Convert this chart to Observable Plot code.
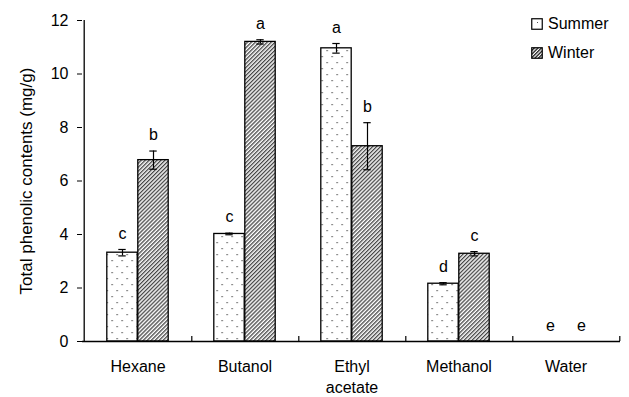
<!DOCTYPE html>
<html>
<head>
<meta charset="utf-8">
<script src="https://cdn.jsdelivr.net/npm/d3@7"></script>
<script src="https://cdn.jsdelivr.net/npm/@observablehq/plot@0.6"></script>
<style>
  body { margin: 0; background: #fff; }
  #wrap { position: relative; width: 629px; height: 397px; font-family: "Liberation Sans", Arial, sans-serif; color: #000; }
  #legend { position: absolute; left: 531px; top: 16px; font-size: 16px; line-height: 16px; }
  #legend .row { display: flex; align-items: center; height: 16px; margin-bottom: 13px; }
  #legend svg { margin-right: 5px; }
</style>
</head>
<body>
<div id="wrap">
  <div id="chart"></div>
  <div id="legend"></div>
</div>
<script>
// ---- data ----
const categories = ["Hexane", "Butanol", "Ethyl acetate", "Methanol", "Water"];
const categoryLabels = ["Hexane", "Butanol", "Ethyl\nacetate", "Methanol", "Water"];
const seasons = ["Summer", "Winter"];
const summer = [3.32, 4.02, 10.96, 2.16, 0];
const summerErr = [0.12, 0.03, 0.18, 0.04, 0];
const winter = [6.78, 11.2, 7.3, 3.28, 0];
const winterErr = [0.34, 0.08, 0.88, 0.08, 0];
const summerLetters = ["c", "c", "a", "d", "e"];
const winterLetters = ["b", "a", "b", "c", "e"];
const yTicks = [0, 2, 4, 6, 8, 10, 12];
const yTitle = "Total phenolic contents (mg/g)";

// ---- layout ----
const W = 629, H = 397, mL = 82, mR = 9, mT = 20, mB = 56;
const step = (W - mL - mR) / categories.length;
const barW = 31;
const inset = (step - barW) / 2;
const off = barW / 2;
const capHalf = 4;
const plotH = H - mT - mB;
const yMax = 12;
const tickLen = yMax * 5 / plotH; // 5px inner tick, expressed in y units

const sRows = categories.map((c, i) => ({cat: c, v: summer[i], e: summerErr[i], l: summerLetters[i]}));
const wRows = categories.map((c, i) => ({cat: c, v: winter[i], e: winterErr[i], l: winterLetters[i]}));

function defs() {
  const g = d3.create("svg:defs");
  const p1 = g.append("pattern").attr("id", "dots").attr("patternUnits", "userSpaceOnUse")
    .attr("width", 10).attr("height", 12);
  p1.append("rect").attr("width", 10).attr("height", 12).attr("fill", "#fff");
  p1.append("rect").attr("x", 2).attr("y", 2).attr("width", 1.2).attr("height", 1.2).attr("fill", "#444");
  p1.append("rect").attr("x", 7).attr("y", 8).attr("width", 1.2).attr("height", 1.2).attr("fill", "#444");
  const p2 = g.append("pattern").attr("id", "hatch").attr("patternUnits", "userSpaceOnUse")
    .attr("width", 2.8).attr("height", 2.8).attr("patternTransform", "rotate(45)");
  p2.append("rect").attr("width", 2.8).attr("height", 2.8).attr("fill", "#fff");
  p2.append("line").attr("x1", 0.7).attr("y1", 0).attr("x2", 0.7).attr("y2", 2.8)
    .attr("stroke", "#222").attr("stroke-width", 1.1);
  return g.node();
}

function series(rows, fill, sign) {
  const nz = rows.filter(d => d.v > 0);
  const er = rows.filter(d => d.e > 0);
  return [
    Plot.barY(nz, {x: "cat", y: "v", fill, stroke: "#000", strokeWidth: 1.3,
      insetLeft: inset, insetRight: inset, dx: sign * off}),
    Plot.ruleX(er, {x: "cat", y1: d => d.v - d.e, y2: d => d.v + d.e, dx: sign * off, stroke: "#000", strokeWidth: 1.2}),
    Plot.tickY(er, {x: "cat", y: d => d.v + d.e, dx: sign * off, insetLeft: step / 2 - capHalf, insetRight: step / 2 - capHalf, stroke: "#000", strokeWidth: 1.2}),
    Plot.tickY(er, {x: "cat", y: d => d.v - d.e, dx: sign * off, insetLeft: step / 2 - capHalf, insetRight: step / 2 - capHalf, stroke: "#000", strokeWidth: 1.2}),
    Plot.text(rows, {x: "cat", y: d => d.v + d.e, text: "l", dx: sign * off, dy: -16, fontSize: 16, fill: "#000"})
  ];
}

const chart = Plot.plot({
  width: W, height: H,
  marginLeft: mL, marginRight: mR, marginTop: mT, marginBottom: mB,
  style: {fontFamily: '"Liberation Sans", Arial, sans-serif', fontSize: "16px", color: "#000", background: "#fff"},
  x: {domain: categories, padding: 0},
  y: {domain: [0, yMax]},
  marks: [
    defs,
    ...series(sRows, "url(#dots)", -1),
    ...series(wRows, "url(#hatch)", 1),
    Plot.ruleY([0], {stroke: "#000", strokeWidth: 1.3}),
    Plot.ruleX([categories[0]], {y1: 0, y2: yMax, dx: -step / 2, stroke: "#000", strokeWidth: 1.3}),
    Plot.ruleX(categories, {y1: 0, y2: tickLen, dx: step / 2, stroke: "#000", strokeWidth: 1.2}),
    Plot.axisY({ticks: yTicks, tickSize: 5, tickPadding: 9, fontSize: 16, label: yTitle,
      labelAnchor: "center", labelOffset: 63, labelArrow: "none", stroke: "#000"}),
    Plot.axisX({tickSize: 0, tickPadding: 16, fontSize: 16, label: null, lineHeight: 1.3,
      tickFormat: c => categoryLabels[categories.indexOf(c)]})
  ]
});
// enlarge the y-axis title slightly
chart.querySelectorAll("text").forEach(t => {
  if (t.textContent === yTitle) t.setAttribute("font-size", 17);
});
document.getElementById("chart").appendChild(chart);

// ---- legend ----
const leg = d3.select("#legend");
const swatchDefs = `<defs>
  <pattern id="ldots" patternUnits="userSpaceOnUse" width="10" height="10"><rect width="10" height="10" fill="#fff"/><rect x="6" y="4" width="1" height="1" fill="#555"/></pattern>
  <pattern id="lhatch" patternUnits="userSpaceOnUse" width="2.5" height="2.5" patternTransform="rotate(45)"><rect width="2.5" height="2.5" fill="#fff"/><line x1="0.6" y1="0" x2="0.6" y2="2.5" stroke="#111" stroke-width="1.3"/></pattern>
</defs>`;
seasons.forEach((s, i) => {
  const row = leg.append("div").attr("class", "row");
  row.append("svg").attr("width", 12).attr("height", 12)
    .html((i === 0 ? swatchDefs : "") + `<rect x="0.75" y="0.75" width="10.5" height="10.5" fill="${i === 0 ? "url(#ldots)" : "url(#lhatch)"}" stroke="#000" stroke-width="1.2"/>`);
  row.append("span").text(s);
});
</script>
</body>
</html>
